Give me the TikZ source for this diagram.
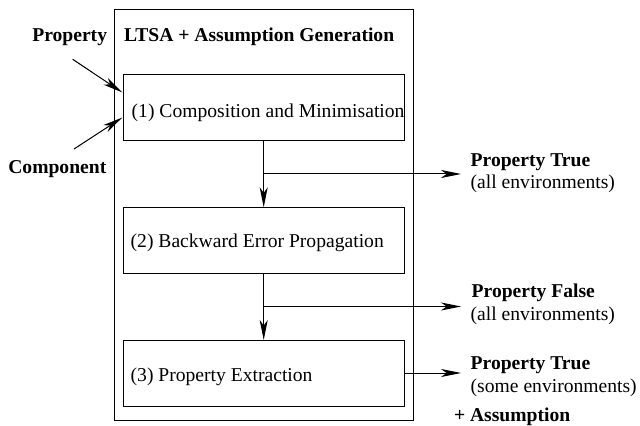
\documentclass[tikz,border=0pt]{standalone}
\usepackage{fontspec}
\setmainfont{Liberation Serif}
\usetikzlibrary{arrows.meta}
\begin{document}
\begin{tikzpicture}[x=0.5pt,y=-0.5pt,
  every node/.style={font=\fontsize{9.8}{12}\selectfont, inner sep=0pt, outer sep=0pt},
  stagebox/.style={draw, line width=0.5pt, minimum width=140.5pt, minimum height=33pt},
  outerbox/.style={draw, line width=0.5pt, minimum width=149.25pt, minimum height=205.7pt},
  txt/.style={anchor=base west},
  btxt/.style={anchor=base west, font=\fontsize{9.8}{12}\selectfont\bfseries},
  arr/.style={line width=0.5pt, -{Stealth[length=10pt, width=4pt, inset=2.8pt]}}]
\useasboundingbox (0,0) rectangle (640,426);
\fill[white] (0,0) rectangle (640,426);

% containers
\node[outerbox] (outer) at (263.75,215) {};
\node[stagebox] (b1) at (264.1,108) {};
\node[stagebox] (b2) at (263.65,240.3) {};
\node[stagebox] (b3) at (263.65,373) {};

% texts
\node[btxt] (lprop) at (32.3,41.7) {Property};
\node[btxt] (title) at (124,41.7) {LTSA + Assumption Generation};
\node[btxt] (lcomp) at (8.3,173.3) {Component};
\node[txt] (t1) at (131.7,117.3) {(1) Composition and Minimisation};
\node[txt] (t2) at (130.7,248) {(2) Backward Error Propagation};
\node[txt] (t3) at (130.7,381) {(3) Property Extraction};

\node[btxt] (r1a) at (470.7,166.7) {Property True};
\node[txt] (r1b) at (470.7,189) {(all environments)};
\node[btxt] (r2a) at (471.7,297.3) {Property False};
\node[txt] (r2b) at (470.7,320) {(all environments)};
\node[btxt] (r3a) at (470.7,369) {Property True};
\node[txt] (r3b) at (470.7,392.7) {(some environments)};
\node[btxt] (r3c) at (454,421) {+ Assumption};

% inputs
\coordinate (ps) at (72.7,59.3);
\coordinate (cs) at (74,149);
\draw[arr, shorten >=0.8pt] (ps) -- ([yshift=7.35pt]b1.west);
\draw[arr, shorten >=0.8pt] (cs) -- ([yshift=-4.35pt]b1.west);

% flow
\coordinate (j1) at (263.7,174);
\coordinate (j2) at (263.7,306.5);
\coordinate (e1) at (461,174);
\coordinate (e2) at (461,306.5);
\coordinate (e3) at (461,373);
\draw[arr] (b1.south -| j1) -- (b2.north -| j1);
\draw[arr] (b2.south -| j2) -- (b3.north -| j2);
\draw[arr] (j1) -- (e1);
\draw[arr] (j2) -- (e2);
\draw[arr] (b3.east) -- (e3);
\end{tikzpicture}
\end{document}
